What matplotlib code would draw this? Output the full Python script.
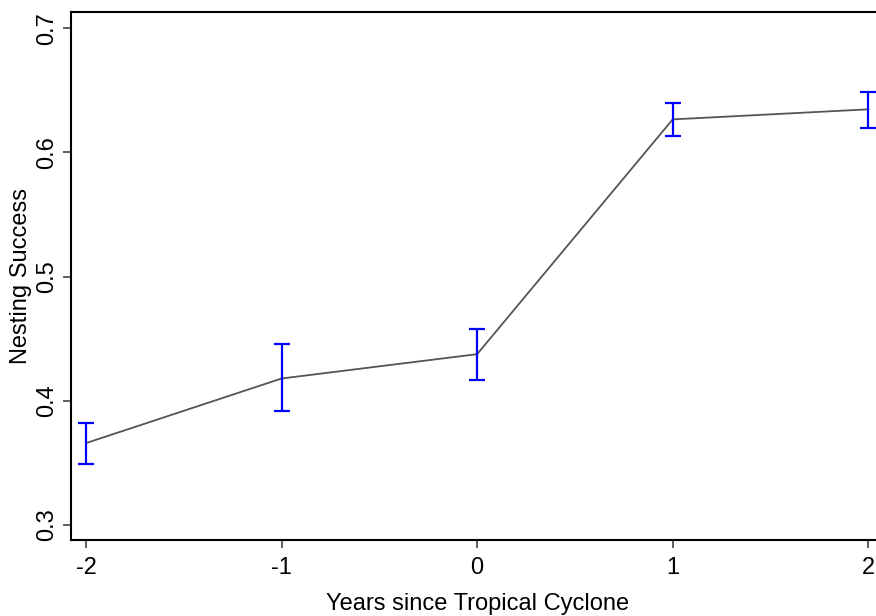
import matplotlib.pyplot as plt
import numpy as np

plt.rcParams['font.family'] = ['Liberation Sans', 'DejaVu Sans']

years = [-2, -1, 0, 1, 2]
success = [0.366, 0.418, 0.4376, 0.6266, 0.6347]
upper = [0.382, 0.4456, 0.458, 0.640, 0.649]
lower = [0.349, 0.392, 0.4167, 0.613, 0.620]

yerr = [np.array(success) - np.array(lower), np.array(upper) - np.array(success)]

fig = plt.figure(figsize=(8.76, 6.16), dpi=100)
# right edge of the plot box sits just outside the figure, as in the original
ax = fig.add_axes([0.081, 0.1234, 0.928, 0.857])

ax.plot(years, success, color='#555555', linewidth=1.3, zorder=2)
ax.errorbar(years, success, yerr=yerr, fmt='none', ecolor='#0000ff',
            elinewidth=1.6, capsize=6, capthick=1.6, zorder=3)

ax.set_xlim(-2.077, 2.08)
ax.set_ylim(0.288, 0.713)
ax.set_xticks(years)
ax.set_xticklabels(['-2', '-1', '0', '1', '2'])
ax.set_yticks([0.3, 0.4, 0.5, 0.6, 0.7])
ax.set_yticklabels(['0.3', '0.4', '0.5', '0.6', '0.7'], rotation=90, va='center')

ax.spines['right'].set_visible(False)
for s in ['left', 'top', 'bottom']:
    ax.spines[s].set_linewidth(1.5)
ax.tick_params(direction='out', length=6, width=1.2, color='#444444',
               labelsize=17)
ax.tick_params(axis='x', pad=6)
ax.tick_params(axis='y', pad=3)

ax.set_xlabel('Years since Tropical Cyclone', fontsize=17, labelpad=10)
ax.set_ylabel('Nesting Success', fontsize=17, labelpad=3)

fig.savefig('out.png', dpi=100)
